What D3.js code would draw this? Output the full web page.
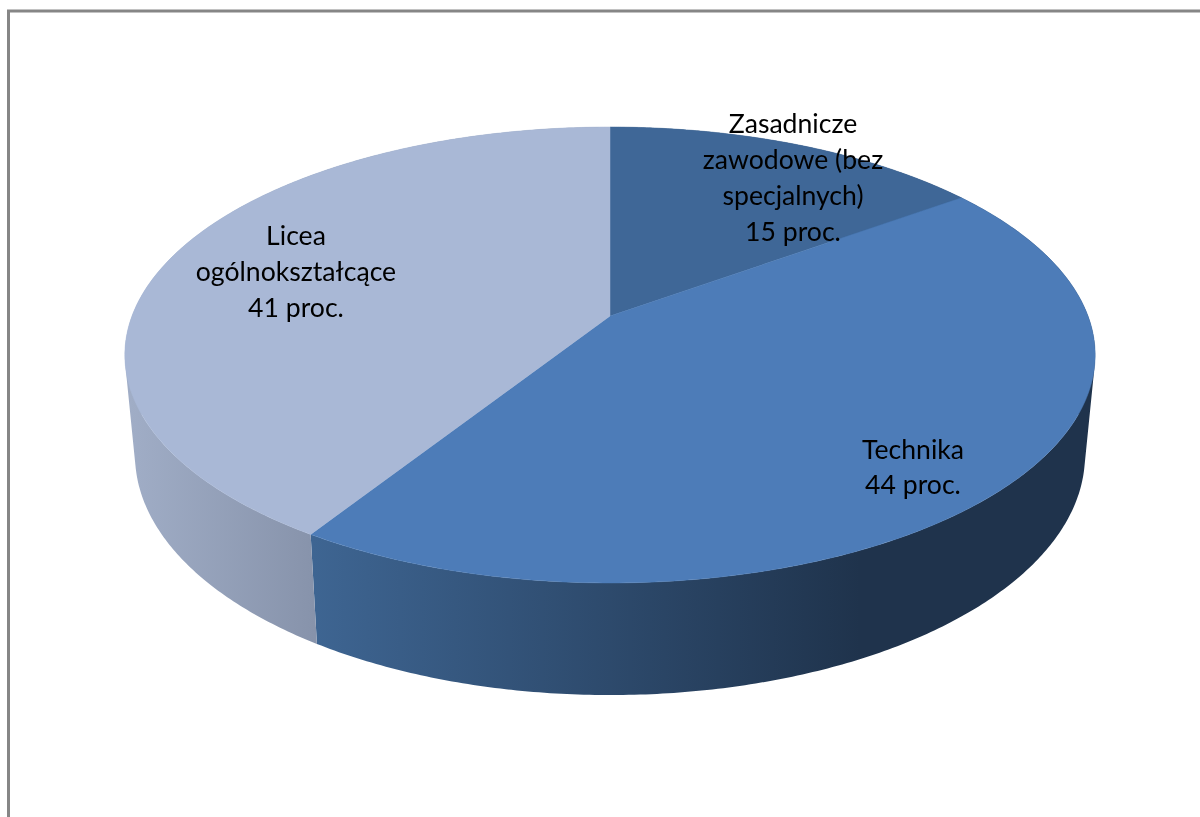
<!DOCTYPE html>
<html><head><meta charset="utf-8">
<script src="https://cdn.jsdelivr.net/npm/d3@7"></script>
<style>html,body{margin:0;padding:0;background:#fff}svg{display:block}</style>
</head><body><svg id="c" width="1200" height="817"></svg>
<script>
const categories = ["Zasadnicze zawodowe (bez specjalnych)", "Technika", "Licea ogólnokształcące"];
const values = [15, 44, 41];
const labelLines = [
  ["Zasadnicze", "zawodowe (bez", "specjalnych)", "15 proc."],
  ["Technika", "44 proc."],
  ["Licea", "ogólnokształcące", "41 proc."]
];
const topColors = ["#3f6797", "#4d7cb8", "#a9b8d6"];
const sideStops = [["#3f6797", "#2c4768"], ["#3e6592", "#1f334c"], ["#a0adc6", "#8793ab"]];

// layout (separate from data)
const k = 0.171;
const topPlane = {a: 478, b: 221.3, x0: 610, y0: 316};
const lowPlane = {a: 468, b: 233, x0: 610, y0: 414};
const labelAnchors = [[793, 124, 36], [913, 450, 35], [296, 236, 36]];
const sideRange = [[313, 960], [313, 860], [130, 314]];

const project = (plane, theta, r = 1) => {
  const X = r * Math.sin(theta), Y = -r * Math.cos(theta), d = 1 - k * Y;
  return [plane.x0 + plane.a * X / d, plane.y0 + plane.b * Y / d];
};

const svg = d3.select("#c");
const defs = svg.append("defs");
const arcs = d3.pie().sort(null).value(d => d)(values);
const line = d3.line();

defs.append("filter").attr("id", "soft").append("feGaussianBlur").attr("stdDeviation", 0.45);

svg.append("path").attr("d", "M8.5 817V11H1200").attr("fill", "none")
   .attr("stroke", "#868686").attr("stroke-width", 3);

arcs.forEach((s, i) => {
  defs.append("linearGradient").attr("id", "side" + i).attr("gradientUnits", "userSpaceOnUse")
    .attr("x1", sideRange[i][0]).attr("x2", sideRange[i][1]).attr("y1", 0).attr("y2", 0)
    .selectAll("stop").data(sideStops[i]).join("stop")
    .attr("offset", (d, j) => j).attr("stop-color", d => d);
});

// walls: one path per slice, every quad wound the same way so that they merge without seams
const wall = svg.append("g");
arcs.forEach((s, i) => {
  const n = Math.ceil((s.endAngle - s.startAngle) / 0.01);
  const dt = (s.endAngle - s.startAngle) / n;
  const d = d3.range(n).map(j => {
    const t = s.startAngle + dt * j;
    const q = [project(topPlane, t), project(topPlane, t + dt), project(lowPlane, t + dt), project(lowPlane, t)];
    return line(d3.polygonArea(q) < 0 ? q.reverse() : q) + "Z";
  }).join("");
  wall.append("path").attr("d", d).attr("fill", `url(#side${i})`);
});

// top surface
svg.append("g").selectAll("path").data(arcs).join("path")
  .attr("d", s => {
    const n = 200;
    const pts = d3.range(n + 1).map(j => project(topPlane, s.startAngle + (s.endAngle - s.startAngle) * j / n));
    return line([[topPlane.x0, topPlane.y0], ...pts]) + "Z";
  })
  .attr("fill", (s, i) => topColors[i]).attr("stroke", (s, i) => topColors[i]).attr("stroke-width", 0.5);

// labels
const lab = svg.append("g").attr("font-family", "Lato, 'Open Sans', sans-serif")
  .attr("font-size", 26.6).attr("fill", "#000").attr("text-anchor", "middle").attr("filter", "url(#soft)");
labelLines.forEach((lines, i) => {
  const [x, y, lh] = labelAnchors[i];
  lab.append("g").selectAll("text").data(lines).join("text")
    .attr("x", x).attr("y", (d, j) => y + j * lh).attr("dy", "0.35em").text(d => d);
});
</script></body></html>
